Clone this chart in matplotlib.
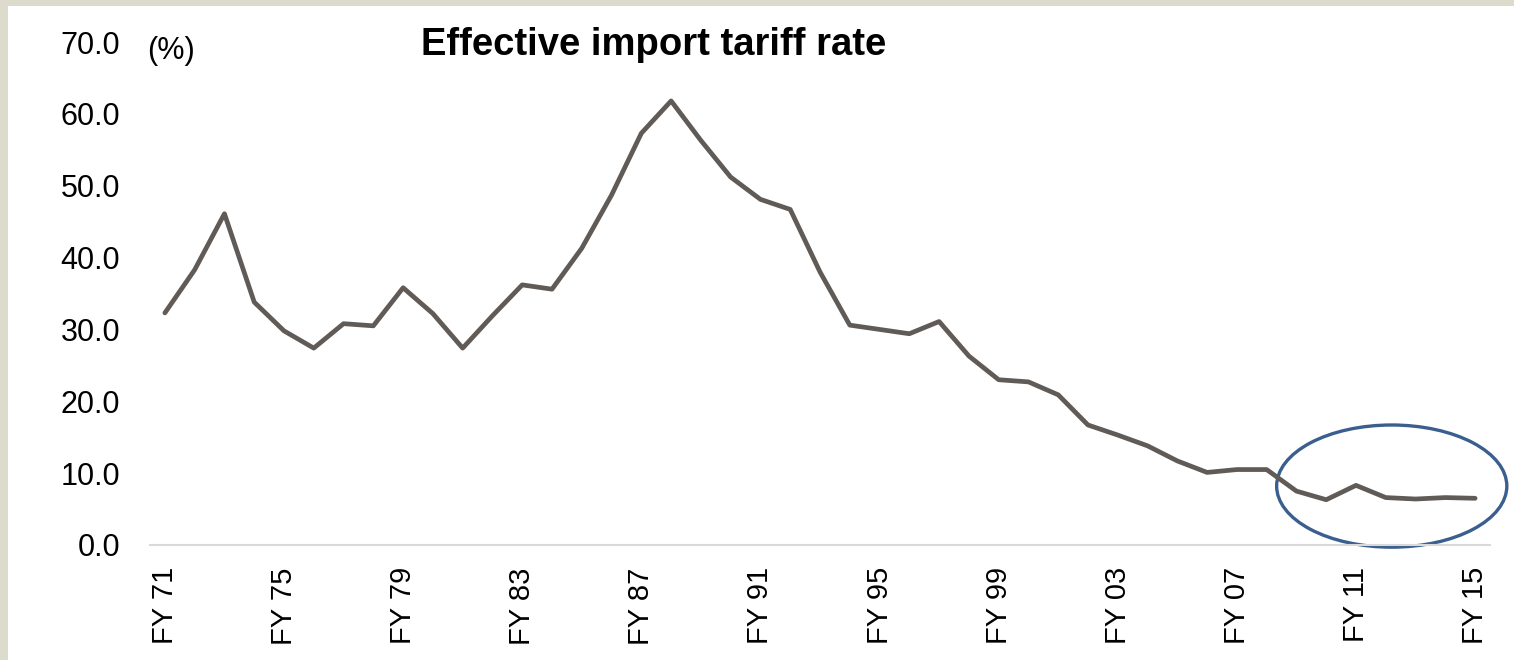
import matplotlib.pyplot as plt
from matplotlib.patches import Ellipse, Rectangle

# effective import tariff rate, FY71..FY15 (%)
years = list(range(1971, 2016))
rate = [32.3, 38.3, 46.1, 33.8, 29.8, 27.4, 30.8, 30.5, 35.8, 32.2,
        27.4, 31.9, 36.2, 35.6, 41.3, 48.7, 57.3, 61.8, 56.3, 51.2,
        48.1, 46.7, 38.0, 30.6, 30.0, 29.4, 31.1, 26.3, 23.0, 22.7,
        20.9, 16.7, 15.3, 13.8, 11.7, 10.1, 10.5, 10.5, 7.5, 6.3,
        8.3, 6.6, 6.4, 6.6, 6.5]
labels = ["FY {:02d}".format(y % 100) for y in years]
shown = list(range(0, len(years), 4))

plt.rcParams['font.family'] = ['Liberation Sans', 'DejaVu Sans']

W, H = 1514, 660
fig = plt.figure(figsize=(W / 100, H / 100), dpi=100)
fig.patch.set_facecolor("#dddbcb")
fig.patches.append(Rectangle((8 / W, 0), 1, 1 - 6 / H, transform=fig.transFigure,
                             facecolor="white", edgecolor="none", zorder=-10))

ax = fig.add_axes([150 / W, 1 - 545 / H, 1340 / W, 503 / H])
ax.patch.set_alpha(0)
x = list(range(len(years)))
ax.plot(x, rate, color="#615b57", lw=3.4, solid_capstyle="round",
        solid_joinstyle="round")

ax.set_xlim(-0.5, len(years) - 0.5)
ax.set_ylim(0, 70)
ax.set_yticks(range(0, 71, 10))
ax.set_yticklabels(["{:.1f}".format(v) for v in range(0, 71, 10)], fontsize=22)
ax.set_xticks(shown)
ax.set_xticklabels([labels[i] for i in shown], rotation=90, fontsize=21)
ax.tick_params(axis="x", length=0, pad=16)
ax.tick_params(axis="y", length=0, pad=21.5)

for s in ["top", "right", "left"]:
    ax.spines[s].set_visible(False)
ax.spines["bottom"].set_color("#d9d9d9")
ax.spines["bottom"].set_linewidth(1.5)

ax.add_patch(Ellipse((41.2, 8.2), 7.73, 17.0, fill=False, edgecolor="#3a5f8f",
                     lw=2.4, clip_on=False))

fig.text(147 / W, 1 - 51 / H, "(%)", fontsize=22, va="center", ha="left")
fig.text(654 / W, 1 - 45 / H, "Effective import tariff rate", fontsize=27.5,
         fontweight="bold", va="center", ha="center")

fig.savefig("out.png", dpi=100)
